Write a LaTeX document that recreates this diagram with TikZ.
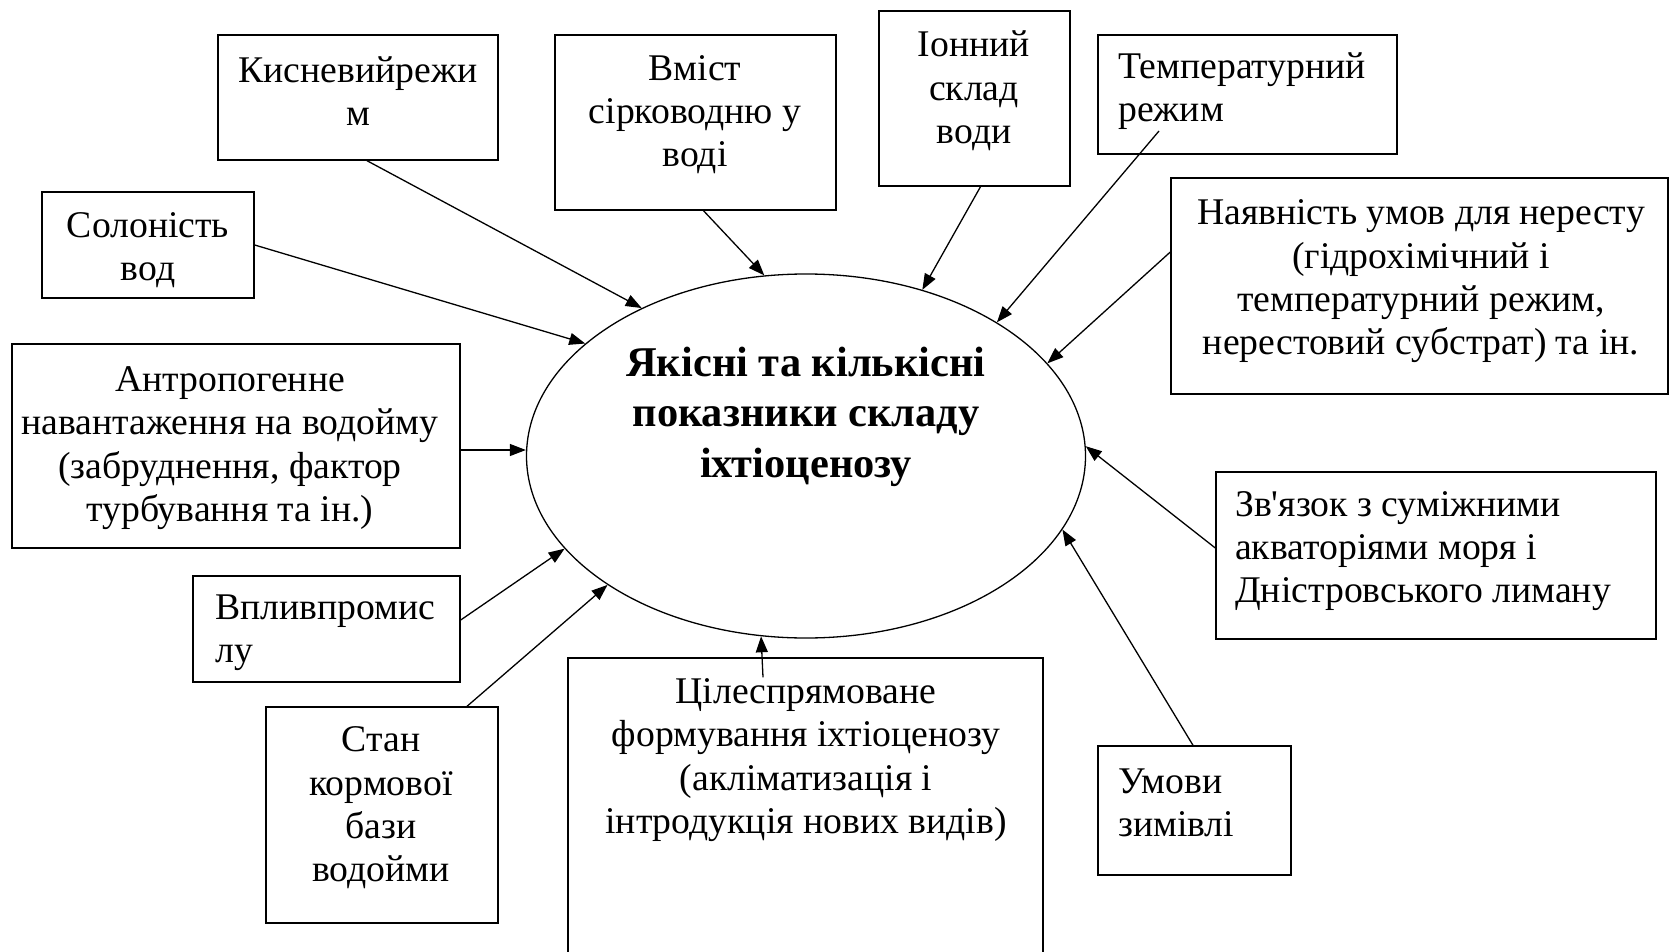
\documentclass[tikz,border=0pt]{standalone}
\usepackage{fontspec}
\setmainfont{Liberation Serif}
\usetikzlibrary{arrows.meta,shapes.geometric}
\begin{document}
\begin{tikzpicture}[x=1pt,y=-1pt,
  box/.style={draw, line width=1.4pt, inner sep=0pt},
  txt/.style={inner sep=0pt, align=center, font=\fontsize{37.7}{43.3}\selectfont},
  txtl/.style={txt, align=left, anchor=west},
  arr/.style={line width=1.3pt, -{Triangle[length=16pt,width=12pt]}}]
\useasboundingbox (0,0) rectangle (1670,952);
\fill[white] (0,0) rectangle (1670,952);
% boxes
\node[box, minimum width=280, minimum height=125] (kisn) at (358,97.5) {};
\node[box, minimum width=281, minimum height=175] (vmist) at (695.5,122.5) {};
\node[box, minimum width=191, minimum height=175] (ion) at (974.5,98.5) {};
\node[box, minimum width=299, minimum height=119] (temp) at (1247.5,94.5) {};
\node[box, minimum width=497, minimum height=216] (nayav) at (1419.5,286) {};
\node[box, minimum width=212, minimum height=106] (solon) at (148,245) {};
\node[box, minimum width=448, minimum height=204] (antrop) at (236,446) {};
\node[box, minimum width=267, minimum height=106] (vplyv) at (326.5,629) {};
\node[box, minimum width=232, minimum height=216] (stan) at (382,815) {};
\node[box, minimum width=475, minimum height=342] (cil) at (805.5,829) {};
\node[box, minimum width=440, minimum height=167] (zvyaz) at (1436,555.5) {};
\node[box, minimum width=193, minimum height=129] (umovy) at (1194.5,810.5) {};
\node[draw, line width=1.3pt, ellipse, minimum width=559, minimum height=364, inner sep=0pt] (ell) at (806,456) {};
% texts
\node[txt] (tkisn) at (358,91) {Кисневийрежи\\м};
\node[txt] (tvmist) at (695,114.5) {Вміст\\сірководню у\\воді};
\node[txt] (tion) at (974,91) {Іонний\\склад\\води};
\node[txtl] (ttemp) at (1118,91) {Температурний\\режим};
\node[txt] (tnayav) at (1421,281.5) {Наявність умов для нересту\\(гідрохімічний і\\температурний режим,\\нерестовий субстрат) та ін.};
\node[txt] (tsolon) at (148,250.5) {Солоність\\вод};
\node[txt] (tantrop) at (230,448) {Антропогенне\\навантаження на водойму\\(забруднення, фактор\\турбування та ін.)};
\node[txtl] (tvplyv) at (215,633) {Впливпромис\\лу};
\node[txt] (tstan) at (381,808) {Стан\\кормової\\бази\\водойми};
\node[txt] (tcil) at (806,760) {Цілеспрямоване\\формування іхтіоценозу\\(акліматизація і\\інтродукція нових видів)};
\node[txtl] (tzvyaz) at (1235,551) {Зв\textquotesingle язок з суміжними\\акваторіями моря і\\Дністровського лиману};
\node[txtl] (tumovy) at (1118,803) {Умови\\зимівлі};
\node[txt, font=\fontsize{42.4}{50.5}\selectfont\bfseries] (tcenter) at (806,416.5) {Якісні та кількісні\\показники складу\\іхтіоценозу};
% arrows
\draw[arr] ([xshift=9pt]kisn.south) -- (ell.138.6);
\draw[arr] (solon.east) -- (ell.153.5);
\draw[arr] ([xshift=8pt]vmist.south) -- (ell.103.3);
\draw[arr] ([xshift=6pt]ion.south) -- (ell.55);
\draw[arr] ([xshift=-88.5pt,yshift=-36.5pt]temp.center) -- (ell.35.1);
\draw[arr] ([yshift=34pt]nayav.west) -- (ell.21.7);
\draw[arr] ([yshift=7.5pt]zvyaz.west) -- (ell.2);
\draw[arr] ([xshift=-1.5pt]umovy.north) -- (ell.-16.5);
\draw[arr] ([xshift=-42.5pt,yshift=-20pt]cil.north) -- (ell.256.6);
\draw[arr] ([xshift=85pt]stan.north) -- (ell.213.5);
\draw[arr] ([yshift=9pt]vplyv.east) -- (ell.201.3);
\draw[arr] ([yshift=-4pt]antrop.east) -- ([yshift=-4pt]antrop.east -| ell.west);
\end{tikzpicture}
\end{document}
